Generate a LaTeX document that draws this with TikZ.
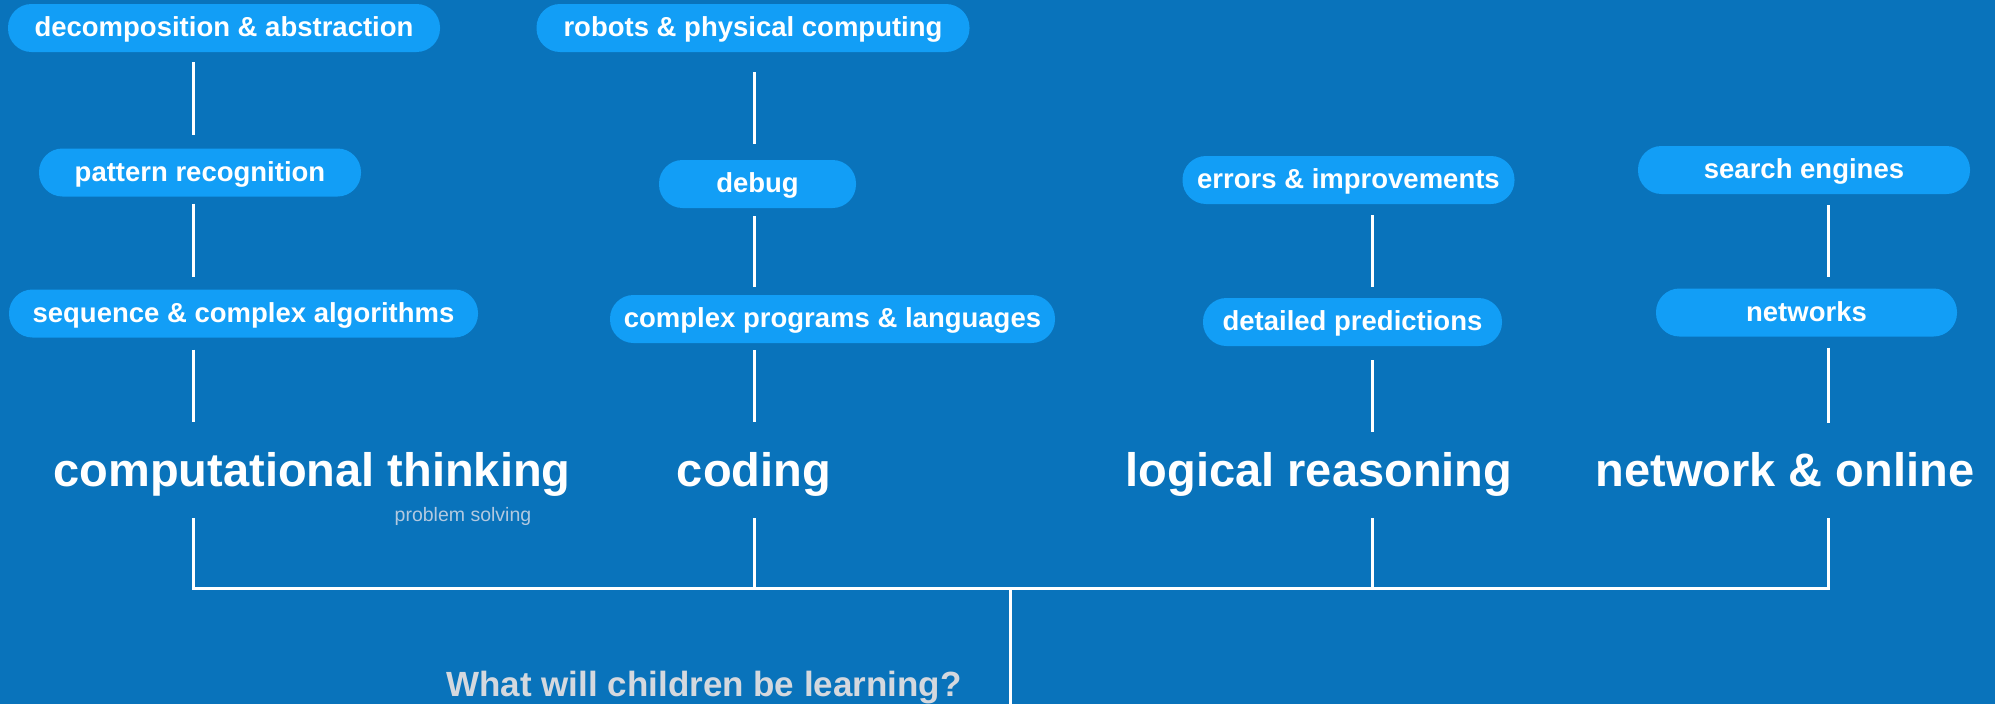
\documentclass[tikz,border=0pt]{standalone}
\usepackage{fontspec}
\setmainfont{Liberation Sans}
\definecolor{bgc}{RGB}{9,115,187}
\definecolor{pillc}{RGB}{18,158,246}
\definecolor{qgray}{RGB}{212,216,222}
\definecolor{subc}{RGB}{178,201,224}
\tikzset{
  pill/.style={fill=pillc, text=white, rounded corners=23.5pt, minimum height=48pt,
    inner sep=0pt, font=\bfseries\fontsize{27.5}{30}\selectfont, text height=21.5pt, text depth=4.5pt},
  topic/.style={text=white, inner sep=0pt, anchor=base, font=\bfseries\fontsize{47}{50}\selectfont,
    text height=34pt, text depth=10pt},
  conn/.style={draw=white, line width=3pt}
}
\begin{document}
\begin{tikzpicture}[x=1pt,y=-1pt]
\useasboundingbox (0,0) rectangle (1995,704);
\fill[bgc] (0,0) rectangle (1995,704);
% column coordinates on the bus
\coordinate (b1) at (193,588);
\coordinate (b2) at (754,588);
\coordinate (b3) at (1372,588);
\coordinate (b4) at (1828,588);
\coordinate (bm) at (1010,588);
\coordinate (bot) at (1010,704);
% pills
\node[pill, minimum width=432pt] (dec) at (224,28) {decomposition \& abstraction};
\node[pill, minimum width=322pt] (pat) at (200,172.5) {pattern recognition};
\node[pill, minimum width=469pt] (seq) at (243.5,313.5) {sequence \& complex algorithms};
\node[pill, minimum width=433pt] (rob) at (753,28) {robots \& physical computing};
\node[pill, minimum width=197pt] (deb) at (757.5,184) {debug};
\node[pill, minimum width=445pt] (cpl) at (832.5,319) {complex programs \& languages};
\node[pill, minimum width=332pt] (err) at (1348.5,180) {errors \& improvements};
\node[pill, minimum width=299pt] (det) at (1352.5,322) {detailed predictions};
\node[pill, minimum width=332pt] (sea) at (1804,170) {search engines};
\node[pill, minimum width=301pt] (net) at (1806.5,312.5) {networks};
% topics
\node[topic] (ct) at (312,486) {computational thinking};
\node[topic] (cod) at (754,486) {coding};
\node[topic] (lr) at (1319,486) {logical reasoning};
\node[topic] (no) at (1785,486) {network \& online};
\node[text=subc, anchor=base, inner sep=0pt, font=\fontsize{19.5}{21}\selectfont] (ps) at (463,521) {problem solving};
\node[text=qgray, anchor=base, inner sep=0pt, font=\bfseries\fontsize{35}{38}\selectfont] (q) at (704,696) {What will children be learning?};
% column 1
\draw[conn, shorten <=10pt, shorten >=13pt] (dec.south -| b1) -- (pat.north -| b1);
\draw[conn, shorten <=7pt, shorten >=12pt] (pat.south -| b1) -- (seq.north -| b1);
\draw[conn, shorten <=12pt, shorten >=30pt] (seq.south -| b1) -- (ct.north -| b1);
\draw[conn, shorten <=22pt] (ct.south -| b1) -- (b1);
% column 2
\draw[conn, shorten <=20pt, shorten >=16pt] (rob.south -| b2) -- (deb.north -| b2);
\draw[conn, shorten <=8pt, shorten >=8pt] (deb.south -| b2) -- (cpl.north -| b2);
\draw[conn, shorten <=7pt, shorten >=30pt] (cpl.south -| b2) -- (cod.north -| b2);
\draw[conn, shorten <=22pt] (cod.south -| b2) -- (b2);
% column 3
\draw[conn, shorten <=11pt, shorten >=11pt] (err.south -| b3) -- (det.north -| b3);
\draw[conn, shorten <=14pt, shorten >=20pt] (det.south -| b3) -- (lr.north -| b3);
\draw[conn, shorten <=22pt] (lr.south -| b3) -- (b3);
% column 4
\draw[conn, shorten <=11pt, shorten >=11pt] (sea.south -| b4) -- (net.north -| b4);
\draw[conn, shorten <=11pt, shorten >=29pt] (net.south -| b4) -- (no.north -| b4);
\draw[conn, shorten <=22pt] (no.south -| b4) -- (b4);
% bus and stem
\draw[conn, line cap=rect] (b1) -- (b4);
\draw[conn] (bm) -- (bot);
\end{tikzpicture}
\end{document}
